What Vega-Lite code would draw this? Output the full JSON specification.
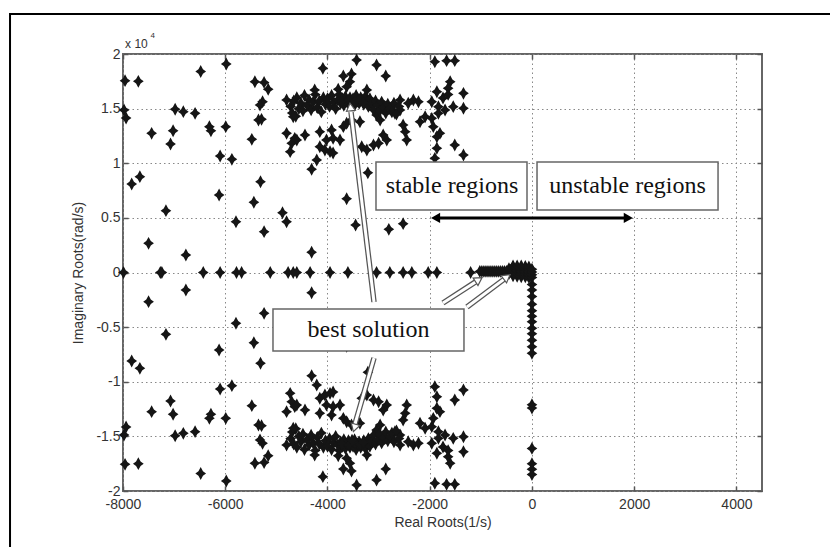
{
  "$schema": "https://vega.github.io/schema/vega-lite/v6.json",
  "width": 639,
  "height": 437,
  "autosize": {"type": "none"},
  "padding": {"left": 123, "top": 54, "right": 68, "bottom": 56},
  "background": "white",
  "config": {
    "view": {"stroke": "#666", "strokeWidth": 2},
    "axis": {
      "labelFont": "Liberation Sans", "titleFont": "Liberation Sans",
      "labelFontSize": 14, "titleFontSize": 14,
      "labelColor": "#333", "titleColor": "#333", "titleFontWeight": "normal",
      "domain": false, "tickColor": "#555", "tickSize": -5, "tickWidth": 1.5,
      "gridColor": "#888", "gridDash": [1.5, 3], "gridWidth": 1, "gridOpacity": 1
    }
  },
  "datasets": {
    "pts": [
      {"x":-7960,"y":17560},{"x":-7700,"y":17500},{"x":-6480,"y":18400},{"x":-5980,"y":19080},{"x":-5420,"y":17460},{"x":-5240,"y":17400},{"x":-5160,"y":16770},{"x":-5270,"y":15630},{"x":-5320,"y":15330},{"x":-7980,"y":14870},{"x":-7940,"y":14140},{"x":-6980,"y":14940},{"x":-6820,"y":14720},{"x":-6590,"y":14570},{"x":-5350,"y":13960},{"x":-5290,"y":14020},{"x":-7440,"y":12740},{"x":-7020,"y":12980},{"x":-7070,"y":11760},{"x":-6310,"y":13350},{"x":-6280,"y":12980},{"x":-5990,"y":13350},{"x":-5480,"y":12190},{"x":-6100,"y":10660},{"x":-5870,"y":10360},{"x":-7670,"y":8770},{"x":-7830,"y":8100},{"x":-5310,"y":8310},{"x":-6120,"y":7090},{"x":-5440,"y":6430},{"x":-7160,"y":5660},{"x":-4880,"y":5470},{"x":-4800,"y":4650},{"x":-5790,"y":4650},{"x":-5240,"y":3740},{"x":-7500,"y":2670},{"x":-6770,"y":1600},{"x":-4310,"y":1850},{"x":-3625,"y":6750},{"x":-3450,"y":4350},{"x":-2800,"y":3950},{"x":-2520,"y":4470},{"x":-4310,"y":9450},{"x":-3210,"y":9120},
      {"x":-3430,"y":19450},{"x":-3040,"y":18990},{"x":-4090,"y":18690},{"x":-3690,"y":17990},{"x":-3530,"y":18170},{"x":-3560,"y":17460},{"x":-2860,"y":17990},{"x":-4800,"y":12740},{"x":-4640,"y":12280},{"x":-4700,"y":11830},{"x":-4440,"y":12590},{"x":-4150,"y":12890},{"x":-4020,"y":12130},{"x":-3920,"y":13040},{"x":-3890,"y":12280},{"x":-3755,"y":12130},{"x":-4150,"y":11510},{"x":-4050,"y":11210},{"x":-4730,"y":11060},{"x":-3950,"y":11060},{"x":-3890,"y":10940},{"x":-4210,"y":10300},{"x":-3690,"y":13350},{"x":-3625,"y":13660},{"x":-3330,"y":11510},{"x":-3230,"y":11210},{"x":-3100,"y":11670},{"x":-3000,"y":11830},{"x":-2910,"y":12590},{"x":-2840,"y":12130},{"x":-2520,"y":13500},{"x":-2480,"y":12890},{"x":-2450,"y":12130},{"x":-4600,"y":12130},{"x":-3365,"y":13800},{"x":-3530,"y":13960},{"x":-3040,"y":14420},{"x":-2970,"y":13960},
      {"x":-1900,"y":19290},{"x":-1670,"y":19390},{"x":-1510,"y":19390},{"x":-1600,"y":17460},{"x":-1640,"y":16860},{"x":-1860,"y":16550},{"x":-1340,"y":16400},{"x":-1960,"y":15630},{"x":-1830,"y":15180},{"x":-1700,"y":14870},{"x":-1540,"y":15180},{"x":-1340,"y":15030},{"x":-2090,"y":14260},{"x":-1960,"y":14110},{"x":-1830,"y":14570},{"x":-2190,"y":13800},{"x":-1930,"y":13350},{"x":-1800,"y":12740},{"x":-1860,"y":12430},{"x":-1510,"y":11670},{"x":-1860,"y":11370},{"x":-1340,"y":10750},{"x":-1900,"y":10450},{"x":-1740,"y":15970},{"x":-1640,"y":16300},{"x":-2710,"y":15330},{"x":-2580,"y":15790},{"x":-2420,"y":15490},{"x":-2320,"y":15790},{"x":-2220,"y":15630},{"x":-2580,"y":14870},{"x":-2680,"y":14570},
      {"x":-4720,"y":15200},{"x":-4690,"y":14600},{"x":-4660,"y":15700},{"x":-4620,"y":14300},{"x":-4600,"y":16000},{"x":-4560,"y":15000},{"x":-4520,"y":15500},{"x":-4480,"y":14800},{"x":-4450,"y":16200},{"x":-4400,"y":15300},{"x":-4360,"y":15800},{"x":-4320,"y":14900},{"x":-4280,"y":15600},{"x":-4240,"y":16300},{"x":-4200,"y":15100},{"x":-4160,"y":15700},{"x":-4120,"y":14700},{"x":-4080,"y":16000},{"x":-4040,"y":15400},{"x":-4000,"y":15900},{"x":-3960,"y":15200},{"x":-3920,"y":16200},{"x":-3880,"y":15600},{"x":-3840,"y":15000},{"x":-3800,"y":15800},{"x":-3770,"y":16300},{"x":-3740,"y":15500},{"x":-3710,"y":15900},{"x":-3680,"y":15300},{"x":-3650,"y":16100},{"x":-3620,"y":15700},{"x":-3590,"y":15400},{"x":-3560,"y":16000},{"x":-3530,"y":15600},{"x":-3500,"y":15900},{"x":-3470,"y":15300},{"x":-3440,"y":16200},{"x":-3410,"y":15700},{"x":-3380,"y":15500},{"x":-3350,"y":16000},{"x":-3320,"y":15800},{"x":-3290,"y":15400},{"x":-3260,"y":16100},{"x":-3230,"y":15600},{"x":-3200,"y":15200},{"x":-3170,"y":15900},{"x":-3140,"y":15500},{"x":-3100,"y":14900},{"x":-3060,"y":15700},{"x":-3020,"y":15300},{"x":-2980,"y":14800},{"x":-2940,"y":15600},{"x":-2900,"y":15100},{"x":-2860,"y":14600},{"x":-2820,"y":15400},{"x":-2780,"y":15000},{"x":-2740,"y":14700},{"x":-2700,"y":15500},{"x":-2650,"y":14500},{"x":-2600,"y":15200},{"x":-4250,"y":16700},{"x":-3790,"y":16770},{"x":-3625,"y":17000},{"x":-3230,"y":16700},{"x":-4800,"y":15790},{"x":-4670,"y":14260},{"x":-3720,"y":15700},{"x":-3580,"y":15800},{"x":-3460,"y":15600},{"x":-3360,"y":15750},{"x":-3520,"y":15350},{"x":-3300,"y":15550},
      {"x":-7960,"y":-17560},{"x":-7700,"y":-17500},{"x":-6480,"y":-18400},{"x":-5980,"y":-19080},{"x":-5420,"y":-17460},{"x":-5240,"y":-17400},{"x":-5160,"y":-16770},{"x":-5270,"y":-15630},{"x":-5320,"y":-15330},{"x":-7980,"y":-14870},{"x":-7940,"y":-14140},{"x":-6980,"y":-14940},{"x":-6820,"y":-14720},{"x":-6590,"y":-14570},{"x":-5350,"y":-13960},{"x":-5290,"y":-14020},{"x":-7440,"y":-12740},{"x":-7020,"y":-12980},{"x":-7070,"y":-11760},{"x":-6310,"y":-13350},{"x":-6280,"y":-12980},{"x":-5990,"y":-13350},{"x":-5480,"y":-12190},{"x":-6100,"y":-10660},{"x":-5870,"y":-10360},{"x":-7670,"y":-8770},{"x":-7830,"y":-8100},{"x":-5310,"y":-8310},{"x":-6120,"y":-7090},{"x":-5440,"y":-6430},{"x":-7160,"y":-5660},{"x":-4880,"y":-5470},{"x":-4800,"y":-4650},{"x":-5790,"y":-4650},{"x":-5240,"y":-3740},{"x":-7500,"y":-2670},{"x":-6770,"y":-1600},{"x":-4310,"y":-1850},{"x":-3625,"y":-6750},{"x":-3450,"y":-4350},{"x":-2800,"y":-3950},{"x":-2520,"y":-4470},{"x":-4310,"y":-9450},{"x":-3210,"y":-9120},
      {"x":-3430,"y":-19450},{"x":-3040,"y":-18990},{"x":-4090,"y":-18690},{"x":-3690,"y":-17990},{"x":-3530,"y":-18170},{"x":-3560,"y":-17460},{"x":-2860,"y":-17990},{"x":-4800,"y":-12740},{"x":-4640,"y":-12280},{"x":-4700,"y":-11830},{"x":-4440,"y":-12590},{"x":-4150,"y":-12890},{"x":-4020,"y":-12130},{"x":-3920,"y":-13040},{"x":-3890,"y":-12280},{"x":-3755,"y":-12130},{"x":-4150,"y":-11510},{"x":-4050,"y":-11210},{"x":-4730,"y":-11060},{"x":-3950,"y":-11060},{"x":-3890,"y":-10940},{"x":-4210,"y":-10300},{"x":-3690,"y":-13350},{"x":-3625,"y":-13660},{"x":-3330,"y":-11510},{"x":-3230,"y":-11210},{"x":-3100,"y":-11670},{"x":-3000,"y":-11830},{"x":-2910,"y":-12590},{"x":-2840,"y":-12130},{"x":-2520,"y":-13500},{"x":-2480,"y":-12890},{"x":-2450,"y":-12130},{"x":-4600,"y":-12130},{"x":-3365,"y":-13800},{"x":-3530,"y":-13960},{"x":-3040,"y":-14420},{"x":-2970,"y":-13960},
      {"x":-1900,"y":-19290},{"x":-1670,"y":-19390},{"x":-1510,"y":-19390},{"x":-1600,"y":-17460},{"x":-1640,"y":-16860},{"x":-1860,"y":-16550},{"x":-1340,"y":-16400},{"x":-1960,"y":-15630},{"x":-1830,"y":-15180},{"x":-1700,"y":-14870},{"x":-1540,"y":-15180},{"x":-1340,"y":-15030},{"x":-2090,"y":-14260},{"x":-1960,"y":-14110},{"x":-1830,"y":-14570},{"x":-2190,"y":-13800},{"x":-1930,"y":-13350},{"x":-1800,"y":-12740},{"x":-1860,"y":-12430},{"x":-1510,"y":-11670},{"x":-1860,"y":-11370},{"x":-1340,"y":-10750},{"x":-1900,"y":-10450},{"x":-1740,"y":-15970},{"x":-1640,"y":-16300},{"x":-2710,"y":-15330},{"x":-2580,"y":-15790},{"x":-2420,"y":-15490},{"x":-2320,"y":-15790},{"x":-2220,"y":-15630},{"x":-2580,"y":-14870},{"x":-2680,"y":-14570},
      {"x":-4720,"y":-15200},{"x":-4690,"y":-14600},{"x":-4660,"y":-15700},{"x":-4620,"y":-14300},{"x":-4600,"y":-16000},{"x":-4560,"y":-15000},{"x":-4520,"y":-15500},{"x":-4480,"y":-14800},{"x":-4450,"y":-16200},{"x":-4400,"y":-15300},{"x":-4360,"y":-15800},{"x":-4320,"y":-14900},{"x":-4280,"y":-15600},{"x":-4240,"y":-16300},{"x":-4200,"y":-15100},{"x":-4160,"y":-15700},{"x":-4120,"y":-14700},{"x":-4080,"y":-16000},{"x":-4040,"y":-15400},{"x":-4000,"y":-15900},{"x":-3960,"y":-15200},{"x":-3920,"y":-16200},{"x":-3880,"y":-15600},{"x":-3840,"y":-15000},{"x":-3800,"y":-15800},{"x":-3770,"y":-16300},{"x":-3740,"y":-15500},{"x":-3710,"y":-15900},{"x":-3680,"y":-15300},{"x":-3650,"y":-16100},{"x":-3620,"y":-15700},{"x":-3590,"y":-15400},{"x":-3560,"y":-16000},{"x":-3530,"y":-15600},{"x":-3500,"y":-15900},{"x":-3470,"y":-15300},{"x":-3440,"y":-16200},{"x":-3410,"y":-15700},{"x":-3380,"y":-15500},{"x":-3350,"y":-16000},{"x":-3320,"y":-15800},{"x":-3290,"y":-15400},{"x":-3260,"y":-16100},{"x":-3230,"y":-15600},{"x":-3200,"y":-15200},{"x":-3170,"y":-15900},{"x":-3140,"y":-15500},{"x":-3100,"y":-14900},{"x":-3060,"y":-15700},{"x":-3020,"y":-15300},{"x":-2980,"y":-14800},{"x":-2940,"y":-15600},{"x":-2900,"y":-15100},{"x":-2860,"y":-14600},{"x":-2820,"y":-15400},{"x":-2780,"y":-15000},{"x":-2740,"y":-14700},{"x":-2700,"y":-15500},{"x":-2650,"y":-14500},{"x":-2600,"y":-15200},{"x":-4250,"y":-16700},{"x":-3790,"y":-16770},{"x":-3625,"y":-17000},{"x":-3230,"y":-16700},{"x":-4800,"y":-15790},{"x":-4670,"y":-14260},{"x":-3720,"y":-15700},{"x":-3580,"y":-15800},{"x":-3460,"y":-15600},{"x":-3360,"y":-15750},{"x":-3520,"y":-15350},{"x":-3300,"y":-15550},
      {"x":-7990,"y":0},{"x":-7270,"y":0},{"x":-7240,"y":0},{"x":-6430,"y":0},{"x":-6100,"y":0},{"x":-5780,"y":0},{"x":-5680,"y":0},{"x":-5120,"y":0},{"x":-4770,"y":0},{"x":-4670,"y":0},{"x":-4600,"y":0},{"x":-4340,"y":0},{"x":-3950,"y":0},{"x":-3600,"y":0},{"x":-3040,"y":0},{"x":-2780,"y":0},{"x":-2520,"y":0},{"x":-2350,"y":0},{"x":-2030,"y":0},{"x":-1860,"y":0},{"x":-1200,"y":0},
      {"x":-1020,"y":100},{"x":-980,"y":100},{"x":-940,"y":100},{"x":-900,"y":100},{"x":-860,"y":100},{"x":-820,"y":100},{"x":-780,"y":100},{"x":-740,"y":100},{"x":-700,"y":100},{"x":-660,"y":100},{"x":-620,"y":100},{"x":-580,"y":100},{"x":-540,"y":100},{"x":-500,"y":100},
      {"x":-450,"y":-100},{"x":-450,"y":150},{"x":-450,"y":350},
      {"x":-370,"y":-300},{"x":-370,"y":-50},{"x":-370,"y":200},{"x":-370,"y":450},{"x":-370,"y":600},
      {"x":-290,"y":-350},{"x":-290,"y":-100},{"x":-290,"y":150},{"x":-290,"y":400},{"x":-290,"y":600},
      {"x":-210,"y":-400},{"x":-210,"y":-150},{"x":-210,"y":100},{"x":-210,"y":350},{"x":-210,"y":600},
      {"x":-130,"y":-400},{"x":-130,"y":-150},{"x":-130,"y":100},{"x":-130,"y":350},{"x":-130,"y":550},
      {"x":-60,"y":-450},{"x":-60,"y":-200},{"x":-60,"y":50},{"x":-60,"y":300},{"x":-60,"y":500},
      {"x":0,"y":-450},{"x":0,"y":-200},{"x":0,"y":50},{"x":0,"y":300},
      {"x":0,"y":-1100},{"x":0,"y":-1600},{"x":0,"y":-2200},{"x":0,"y":-2900},{"x":0,"y":-3500},{"x":0,"y":-4000},{"x":0,"y":-4500},{"x":0,"y":-5100},{"x":0,"y":-5600},{"x":0,"y":-6200},{"x":0,"y":-6800},{"x":0,"y":-7400},{"x":0,"y":-12100},{"x":0,"y":-12400},{"x":0,"y":-16100},{"x":0,"y":-17500},{"x":0,"y":-18000},{"x":0,"y":-18500}
    ],
    "hollow": [
      {"x":-3090,"y":-2700,"x2":-3540,"y2":14700},
      {"x":-3090,"y":-7830,"x2":-3462,"y2":-13870},
      {"x":-1741,"y":-2790,"x2":-1089,"y2":-815},
      {"x":-1271,"y":-3160,"x2":-536,"y2":-580}
    ],
    "boxes": [
      {"x":-3051,"x2":-97,"y":10114,"y2":5721},
      {"x":99,"x2":3640,"y":10114,"y2":5721},
      {"x":-5066,"x2":-1330,"y":-3341,"y2":-7185}
    ],
    "labels": [
      {"x":-1565,"y":7917,"t":"stable regions"},
      {"x":1870,"y":7917,"t":"unstable regions"},
      {"x":-3198,"y":-5263,"t":"best solution"}
    ]
  },
  "encoding": {
    "x": {"field": "x", "type": "quantitative", "scale": {"domain": [-8000, 4500], "nice": false, "zero": false}, "axis": null},
    "y": {"field": "y", "type": "quantitative", "scale": {"domain": [-20000, 20000], "nice": false, "zero": false}, "axis": null}
  },
  "layer": [
    {
      "data": {"name": "pts"},
      "mark": {"type": "point", "shape": "M0,-1.2L0.42,-0.42L1,0L0.42,0.42L0,1.2L-0.42,0.42L-1,0L-0.42,-0.42Z", "filled": true, "color": "#151515", "opacity": 1, "size": 115},
      "encoding": {
        "x": {"field": "x", "type": "quantitative", "scale": {"domain": [-8000, 4500], "nice": false, "zero": false},
              "axis": {"orient": "bottom", "values": [-8000, -6000, -4000, -2000, 0, 2000, 4000], "labelExpr": "toString(datum.value)", "labelFlush": false, "labelPadding": 11, "title": "Real Roots(1/s)", "titlePadding": 4, "grid": true}},
        "y": {"field": "y", "type": "quantitative", "scale": {"domain": [-20000, 20000], "nice": false, "zero": false},
              "axis": {"orient": "left", "values": [-20000, -15000, -10000, -5000, 0, 5000, 10000, 15000, 20000], "labelExpr": "toString(datum.value/10000)", "labelPadding": 8, "title": "Imaginary Roots(rad/s)", "titlePadding": 10, "grid": true}}
      }
    },
    {
      "data": {"values": [{"x": -10210, "x2": 8000, "y": 23660, "y2": -26300}]},
      "mark": {"type": "rect", "fill": null, "fillOpacity": 0, "stroke": "#000", "strokeWidth": 2},
      "encoding": {
        "x": {"field": "x", "type": "quantitative", "scale": {"domain": [-8000, 4500], "nice": false, "zero": false},
              "axis": {"orient": "top", "values": [-8000, -6000, -4000, -2000, 0, 2000, 4000], "labels": false, "grid": false, "title": null}},
        "y": {"field": "y", "type": "quantitative", "scale": {"domain": [-20000, 20000], "nice": false, "zero": false},
              "axis": {"orient": "right", "values": [-20000, -15000, -10000, -5000, 0, 5000, 10000, 15000, 20000], "labels": false, "grid": false, "title": null}},
        "x2": {"field": "x2"},
        "y2": {"field": "y2"}
      }
    },
    {
      "data": {"name": "hollow"},
      "mark": {"type": "rule", "color": "#555", "strokeWidth": 5.5},
      "encoding": {"x2": {"field": "x2"}, "y2": {"field": "y2"}}
    },
    {
      "data": {"name": "hollow"},
      "mark": {"type": "rule", "color": "#fff", "strokeWidth": 3},
      "encoding": {"x2": {"field": "x2"}, "y2": {"field": "y2"}}
    },
    {
      "data": {"values": [{"x": -3550, "y": 15150}]},
      "mark": {"type": "point", "shape": "triangle-up", "filled": true, "fill": "#fff", "stroke": "#555", "strokeWidth": 1.2, "opacity": 1, "size": 80, "angle": -7}
    },
    {
      "data": {"values": [{"x": -3472, "y": -14230}]},
      "mark": {"type": "point", "shape": "triangle-up", "filled": true, "fill": "#fff", "stroke": "#555", "strokeWidth": 1.2, "opacity": 1, "size": 80, "angle": 196}
    },
    {
      "data": {"values": [{"x": -1040, "y": -660}]},
      "mark": {"type": "point", "shape": "triangle-up", "filled": true, "fill": "#fff", "stroke": "#555", "strokeWidth": 1.2, "opacity": 1, "size": 80, "angle": 57}
    },
    {
      "data": {"values": [{"x": -489, "y": -410}]},
      "mark": {"type": "point", "shape": "triangle-up", "filled": true, "fill": "#fff", "stroke": "#555", "strokeWidth": 1.2, "opacity": 1, "size": 80, "angle": 53}
    },
    {
      "data": {"name": "boxes"},
      "mark": {"type": "rect", "fill": "#fff", "stroke": "#666", "strokeWidth": 1.5},
      "encoding": {"x2": {"field": "x2"}, "y2": {"field": "y2"}}
    },
    {
      "data": {"name": "labels"},
      "mark": {"type": "text", "font": "Liberation Serif", "fontSize": 24, "color": "#111", "align": "center", "baseline": "middle"},
      "encoding": {"text": {"field": "t"}}
    },
    {
      "data": {"values": [{"x": -1860, "y": 5000, "x2": 1860, "y2": 5000}]},
      "mark": {"type": "rule", "color": "#000", "strokeWidth": 3},
      "encoding": {"x2": {"field": "x2"}, "y2": {"field": "y2"}}
    },
    {
      "data": {"values": [{"x": -1885, "y": 5000}]},
      "mark": {"type": "point", "shape": "triangle-left", "filled": true, "color": "#000", "opacity": 1, "size": 110}
    },
    {
      "data": {"values": [{"x": 1885, "y": 5000}]},
      "mark": {"type": "point", "shape": "triangle-right", "filled": true, "color": "#000", "opacity": 1, "size": 110}
    },
    {
      "data": {"values": [{"x": -7960, "y": 20550, "t": "x 10"}]},
      "mark": {"type": "text", "font": "Liberation Sans", "fontSize": 12, "color": "#333", "align": "left", "baseline": "alphabetic"},
      "encoding": {"text": {"field": "t"}}
    },
    {
      "data": {"values": [{"x": -7460, "y": 21500, "t": "4"}]},
      "mark": {"type": "text", "font": "Liberation Sans", "fontSize": 8, "color": "#333", "align": "left", "baseline": "alphabetic"},
      "encoding": {"text": {"field": "t"}}
    }
  ],
  "resolve": {"axis": {"x": "independent", "y": "independent"}}
}
